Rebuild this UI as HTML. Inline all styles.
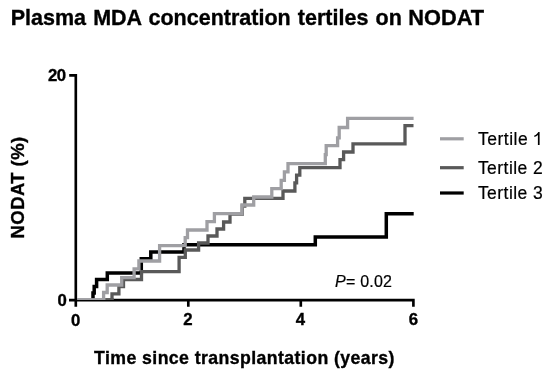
<!DOCTYPE html>
<html>
<head>
<meta charset="utf-8">
<title>Plasma MDA concentration tertiles on NODAT</title>
<style>
html,body{margin:0;padding:0;background:#fff;}
body{width:550px;height:377px;overflow:hidden;font-family:"Liberation Sans",sans-serif;}
svg{display:block;will-change:transform;}
text{font-family:"Liberation Sans",sans-serif;fill:#000;stroke:#000;stroke-width:0.2px;}
.b,.b text{font-weight:bold;stroke:#000;stroke-width:0.35px;}
</style>
</head>
<body>
<svg width="550" height="377" viewBox="0 0 550 377">
<rect width="550" height="377" fill="#fff"/>
<!-- title -->
<text class="b" y="24.7" font-size="21.5"><tspan x="10.7" word-spacing="1.2">Plasma MDA concentration tertiles on</tspan><tspan x="408.3" textLength="75.8" lengthAdjust="spacingAndGlyphs">NODAT</tspan></text>
<!-- axes -->
<g stroke="#000" stroke-width="2.65" fill="none">
<path d="M69.2,75.3 H75.8 V306.8 M69,300.1 H414.7 M188.3,300 V306.8 M300.8,300 V306.8 M413.4,300 V306.8"/>
</g>
<!-- curves -->

<g fill="none" stroke-width="3.3" stroke-linejoin="miter" stroke-linecap="butt">
<path id="c3" stroke="#000" stroke-width="3.5" d="M93,299.8 V293 H94.2 V286.5 H96.6 V279.5 H107.3 V272.9 H141.3 V258.7 H150.8 V251.9 H184 V244.8 H315.3 V237 H386.3 V213.8 H413.7"/>
<rect x="105" y="298.1" width="8.7" height="1.9" fill="#595959" stroke="none"/>
<path id="c2" stroke="#595959" d="M112,299.8 V293.8 H118.9 V286.5 H123.5 V279.5 H141.5 V271.6 H179.1 V257.3 H185.3 V250 H198.6 V243 H208 V236 H217 V229 H223.6 V222 H230 V214 H242.3 V206 H244.8 V198.4 H283 V191 H294.9 V182.9 H296.6 V175.2 H299.8 V167.6 H340 V159.6 H343.6 V152 H353 V143.9 H405 V125.6 H413.5"/>
<rect x="77.1" y="298.1" width="28.2" height="1.9" fill="#9f9fa3" stroke="none"/>
<path id="c1" stroke="#9f9fa3" d="M103.6,299.8 V292.5 H107.2 V285 H121.7 V277.6 H134.1 V268.8 H138.9 V261 H159.6 V245.7 H185.2 V237.6 H187.5 V230 H207 V221.6 H214.4 V213.6 H242 V205 H253.7 V197 H271.8 V188.6 H281.2 V180.3 H284.4 V171.9 H288 V163.6 H325.3 V154.6 H326.2 V145.6 H337.6 V137.8 H339.2 V127.5 H347.6 V118.3 H413.6"/>
</g>
<!-- tick labels -->
<g class="b" font-size="16.8">
<text x="66.2" y="81" text-anchor="end" textLength="18.2">20</text>
<text x="66.9" y="306.1" text-anchor="end">0</text>
<text x="75.6" y="325.6" text-anchor="middle">0</text>
<text x="188" y="325.2" text-anchor="middle">2</text>
<text x="300.5" y="325.2" text-anchor="middle">4</text>
<text x="413.5" y="325.2" text-anchor="middle">6</text>
</g>
<text class="b" x="94.1" y="363.9" font-size="17.7" textLength="300.3" lengthAdjust="spacing">Time since transplantation (years)</text>
<text class="b" font-size="18.5" x="0" y="0" textLength="101.6" lengthAdjust="spacing" transform="translate(24.3,238.4) rotate(-90)">NODAT (%)</text>
<text x="335" y="286.5" font-size="16" textLength="57" lengthAdjust="spacing"><tspan font-style="italic">P</tspan>= 0.02</text>
<!-- legend -->
<g stroke-width="3.2" fill="none">
<path stroke="#9f9fa3" d="M440,138.8 H463.7"/>
<path stroke="#595959" d="M440,167.7 H463.7"/>
<path stroke="#000" d="M440,193 H463.7"/>
</g>
<g font-size="17.5">
<text x="477.9" y="145.1" textLength="49.8">Tertile</text>
<path d="M539.6,145.1 V131.9 H538.3 C537.7,133.3 536.2,134.7 534.3,135.5 V137.1 C535.7,136.6 536.9,135.8 537.9,134.9 V145.1 Z" fill="#000"/>
<text x="477.9" y="173.7" textLength="64.9">Tertile 2</text>
<text x="477.9" y="198.6" textLength="64.9">Tertile 3</text>
</g>
</svg>
</body>
</html>
